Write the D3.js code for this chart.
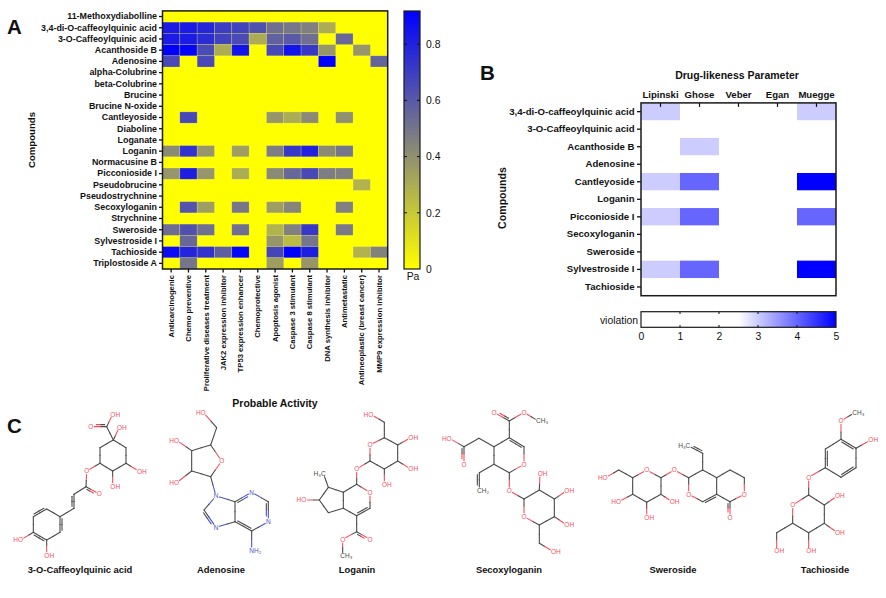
<!DOCTYPE html>
<html><head><meta charset="utf-8">
<script src="https://cdn.jsdelivr.net/npm/d3@7"></script>
<style>
html,body{margin:0;padding:0;background:#fff}
svg{display:block}
text{font-family:"Liberation Sans",Arial,sans-serif;fill:#111}
.b text,.bt{font-weight:700}
</style></head><body><svg id="c" width="886" height="598"></svg>
<script>
// ---------- Panel A data ----------
const compoundsA=["11-Methoxydiabolline","3,4-di-O-caffeoylquinic acid","3-O-Caffeoylquinic acid","Acanthoside B","Adenosine","alpha-Colubrine","beta-Colubrine","Brucine","Brucine N-oxide","Cantleyoside","Diaboline","Loganate","Loganin","Normacusine B","Picconioside I","Pseudobrucine","Pseudostrychnine","Secoxyloganin","Strychnine","Sweroside","Sylvestroside I","Tachioside","Triplostoside A"];
const activities=["Anticarcinogenic","Chemo preventive","Proliferative diseases treatment","JAK2 expression inhibitor","TP53 expression enhancer","Chemoprotective","Apoptosis agonist","Caspase 3 stimulant","Caspase 8 stimulant","DNA synthesis inhibitor","Antimetastatic","Antineoplastic (breast cancer)","MMP9 expression inhibitor"];
const z=[0,0,0,0,0,0,0,0,0,0,0,0,0];
const paValues=[
z,
[.82,.82,.78,.70,.68,.63,.52,.49,.46,.30,0,0,0],
[.82,.82,.76,.68,.65,.30,.57,.60,.52,0,.55,0,0],
[.92,.90,.65,.30,.85,0,.66,.85,.72,.38,0,.38,0],
[.66,0,.66,0,0,0,0,0,0,.92,0,0,.56],
z,z,z,z,
[0,.66,0,0,0,0,.38,.30,.42,0,.40,0,0],
z,z,
[.42,.74,.38,0,.35,0,.47,.72,.80,.42,.50,0,0],
z,
[.38,.81,.38,0,.30,0,.42,.55,.66,.47,.46,0,0],
[0,0,0,0,0,0,0,0,0,0,0,.28,0],
z,
[0,.62,.35,0,.49,0,.35,.44,0,0,.46,0,0],
z,
[.53,.63,.52,0,.52,0,.28,.46,.72,0,.48,0,0],
[0,.55,0,0,0,0,.38,.25,.50,0,0,0,0],
[.88,.79,.74,.58,.90,0,.67,.92,.81,0,0,.28,.45],
[0,.50,0,0,0,0,.35,0,.38,0,0,0,0]];
const paTicks=[0,.2,.4,.6,.8];
// ---------- Panel B data ----------
const compoundsB=["3,4-di-O-caffeoylquinic acid","3-O-Caffeoylquinic acid","Acanthoside B","Adenosine","Cantleyoside","Loganin","Picconioside I","Secoxyloganin","Sweroside","Sylvestroside I","Tachioside"];
const parameters=["Lipinski","Ghose","Veber","Egan","Muegge"];
const violations=[[3,0,0,0,3],[0,0,0,0,0],[0,3,0,0,0],[0,0,0,0,0],[3,4,0,0,5],[0,0,0,0,0],[3,4,0,0,4],[0,0,0,0,0],[0,0,0,0,0],[3,4,0,0,5],[0,0,0,0,0]];
const violationTicks=[0,1,2,3,4,5];
// ---------- Panel C: structures, atoms [x,y,label] in drawing units, bonds [a,b,order] ----------
const molecules=[
{name:"3-O-Caffeoylquinic acid",ox:0,cx:80,
 atoms:[[340,120],[378,143],[378,190],[338,213],[300,190],[300,143],[320,80],[272,80,"O"],[338,43,"OH"],[358,82,"OH"],[418,214,"OH"],[338,259,"OH"],[260,213,"O"],[258,260],[298,282,"O"],[222,283],[222,325],[180,350],[140,327],[100,350],[100,397],[140,420],[180,397],[62,420,"HO"],[140,466,"OH"]],
 bonds:[[0,1],[1,2],[2,3],[3,4],[4,5],[5,0],[0,6],[6,7,2],[6,8],[0,9],[2,10],[3,11],[4,12],[12,13],[13,14,2],[13,15],[15,16,2],[16,17],[17,18],[18,19,2],[19,20],[20,21,2],[21,22],[22,17,2],[20,23],[21,24]]},
{name:"Adenosine",ox:0,cx:221,
 atoms:[[610,37,"HO"],[650,83],[632,135],[665,183,"O"],[632,230],[575,213],[575,152],[530,121,"HO"],[530,248,"HO"],[648,288,"N"],[612,330],[648,382,"N"],[705,365],[705,305],[755,277,"N"],[805,305],[805,365,"N"],[755,393],[755,452,"NH₂"]],
 bonds:[[0,1],[1,2],[2,3],[3,4],[4,5],[5,6],[6,2],[6,7],[5,8],[4,9],[9,10],[10,11,2],[11,12],[12,13],[13,9],[13,14,2],[14,15],[15,16,2],[16,17],[17,12,2],[17,18]]},
{name:"Loganin",ox:290,cx:357,
 atoms:[[243,43,"HO"],[283,67],[283,113],[240,135,"O"],[240,183],[283,207],[323,183],[323,135],[362,113,"OH"],[362,207,"OH"],[283,253,"OH"],[200,207,"O"],[200,253],[240,277,"O"],[240,325],[200,347],[160,325],[160,277],[115,262],[100,220,"H₃C"],[88,300],[42,300,"HO"],[115,338],[200,395],[240,418,"O"],[158,418,"O"],[158,468,"CH₃"]],
 bonds:[[0,1],[1,2],[2,3],[3,4],[4,5],[5,6],[6,7],[7,2],[7,8],[6,9],[5,10],[4,11],[11,12],[12,13],[13,14],[14,15,2],[15,16],[16,17],[17,12],[17,18],[18,19],[18,20],[20,21],[20,22],[22,16],[15,23],[23,24,2],[23,25],[25,26]]},
{name:"Secoxyloganin",ox:290,cx:509,
 atoms:[[658,63],[612,37,"O"],[702,37,"O"],[745,63,"CH₃"],[658,113],[702,140],[702,193,"O"],[658,218],[612,193],[612,140],[567,115],[522,140],[478,115,"HO"],[522,193,"O"],[568,218],[568,272,"CH₂"],[658,272,"O"],[702,297],[702,350,"O"],[748,375],[793,350],[793,297],[748,270],[750,220,"OH"],[830,272,"OH"],[830,375,"OH"],[748,430],[790,455,"OH"]],
 bonds:[[0,1,2],[0,2],[2,3],[0,4],[4,5,2],[5,6],[6,7],[7,8],[8,9],[9,4],[9,10],[10,11],[11,12],[11,13,2],[8,14],[14,15,2],[7,16],[16,17],[17,18],[18,19],[19,20],[20,21],[21,22],[22,17],[22,23],[21,24],[20,25],[19,26],[26,27]]},
{name:"Sweroside",ox:586,cx:673,
 atoms:[[58,233,"HO"],[98,210],[140,233],[182,210,"O"],[225,233],[225,283],[182,307],[140,283],[98,305,"HO"],[182,353,"OH"],[258,305,"OH"],[265,210,"O"],[308,233],[308,283,"O"],[350,305],[392,283],[392,233],[350,210],[350,160],[306,137,"H₃C"],[432,210],[475,233],[475,283,"O"],[432,305],[432,353,"O"]],
 bonds:[[0,1],[1,2],[2,3],[3,4],[4,5],[5,6],[6,7],[7,2],[7,8],[6,9],[5,10],[4,11],[11,12],[12,13],[13,14],[14,15,2],[15,16],[16,17],[17,12],[17,18],[18,19,2],[16,20],[20,21],[21,22],[22,23],[23,15],[23,24,2]]},
{name:"Tachioside",ox:586,cx:825,
 atoms:[[806,38,"CH₃"],[765,63,"O"],[765,118],[810,145],[854,120,"OH"],[810,203],[765,232],[718,203],[718,147],[668,232,"O"],[668,285],[620,315,"O"],[620,370],[668,398],[715,370],[715,315],[754,288,"OH"],[754,398,"OH"],[668,453,"OH"],[572,398],[572,453,"OH"]],
 bonds:[[0,1],[1,2],[2,3,2],[3,4],[3,5],[5,6,2],[6,7],[7,8,2],[8,2],[7,9],[9,10],[10,11],[11,12],[12,13],[13,14],[14,15],[15,10],[15,16],[14,17],[13,18],[12,19],[19,20]]}
];
const svg=d3.select("#c");

// ---------- Panel A ----------
const ax=d3.scaleBand().domain(activities).range([162.5,387.7]);
const ay=d3.scaleBand().domain(compoundsA).range([10.9,269]);
const paMax=.918;
const paColor=d3.scaleLinear().domain([0,paMax/2,paMax]).range(["#ffff00","#808080","#0000ff"]);
const gA=svg.append("g");
gA.append("rect").attr("x",162.5).attr("y",10.9).attr("width",225.2).attr("height",258.1).attr("fill",paColor(0));
compoundsA.forEach((c,i)=>activities.forEach((a,j)=>{
  if(paValues[i][j]>0) gA.append("rect").attr("x",ax(a)).attr("y",ay(c)).attr("width",ax.bandwidth()).attr("height",ay.bandwidth())
    .attr("fill",paColor(paValues[i][j])).attr("stroke","#ffffa0").attr("stroke-opacity",.35).attr("stroke-width",.6);
}));
function style(g,fs,w){
  g.attr("class","b");
  g.selectAll("text").attr("font-size",fs).attr("fill","#111");
  g.selectAll("line").attr("stroke","#111").attr("stroke-width",w);
  g.select(".domain").remove();
}
svg.append("g").attr("transform","translate(162.5,0)").call(d3.axisLeft(ay).tickSize(3.5).tickPadding(2)).call(style,8.9,1.3);
const xa=svg.append("g").attr("transform","translate(0,269)").call(d3.axisBottom(ax).tickSize(3.5)).call(style,7.7,1.3);
xa.selectAll("text").attr("transform","rotate(-90)").attr("text-anchor","end").attr("x",-6).attr("y",0).attr("dy","0.35em");
svg.append("rect").attr("x",162.5).attr("y",10.9).attr("width",225.2).attr("height",258.1).attr("fill","none").attr("stroke","#1a1a1a").attr("stroke-width",1.5);
svg.append("text").attr("class","bt").attr("font-size",9.6).attr("text-anchor","middle").attr("transform","translate(35,140) rotate(-90)").text("Compounds");
svg.append("text").attr("class","bt").attr("font-size",10.5).attr("text-anchor","middle").attr("x",275).attr("y",407).text("Probable Activity");

// Pa colour bar
const defs=svg.append("defs");
const gr=defs.append("linearGradient").attr("id","pa").attr("x1",0).attr("x2",0).attr("y1",1).attr("y2",0);
[0,.5,1].forEach(t=>gr.append("stop").attr("offset",t).attr("stop-color",paColor(t*paMax)));
const py=d3.scaleLinear().domain([0,paMax]).range([269,11]);
svg.append("rect").attr("x",404).attr("y",py(paMax)).attr("width",16).attr("height",py(0)-py(paMax)).attr("fill","url(#pa)").attr("stroke","#1a1a1a").attr("stroke-width",1.2);
const pat=svg.append("g").attr("transform","translate(420,0)").call(d3.axisRight(py).tickValues(paTicks).tickFormat(d=>d===0?"0":d3.format(".1f")(d)).tickSize(0).tickPadding(6));
pat.select(".domain").remove();
pat.selectAll("text").attr("font-size",10.4).attr("fill","#333");
paTicks.filter(d=>d>0).forEach(d=>{
  svg.append("line").attr("x1",404).attr("x2",407).attr("y1",py(d)).attr("y2",py(d)).attr("stroke","#111");
  svg.append("line").attr("x1",417).attr("x2",420).attr("y1",py(d)).attr("y2",py(d)).attr("stroke","#111");
});
svg.append("text").attr("font-size",10.4).attr("fill","#333").attr("text-anchor","middle").attr("x",413).attr("y",280).text("Pa");

// ---------- Panel B ----------
const bx=d3.scaleBand().domain(parameters).range([641,836]);
const by=d3.scaleBand().domain(compoundsB).range([102.9,295.7]);
const vColor=d3.scaleLinear().domain([0,2.5,5]).range(["#ffffff","#ffffff","#0000ff"]);
compoundsB.forEach((c,i)=>parameters.forEach((p,j)=>{
  svg.append("rect").attr("x",bx(p)).attr("y",by(c)).attr("width",bx.bandwidth()).attr("height",by.bandwidth()).attr("fill",vColor(violations[i][j]));
}));
svg.append("g").attr("transform","translate(641,0)").call(d3.axisLeft(by).tickSize(4).tickPadding(2.5)).call(style,9.6,1.3);
const xb=svg.append("g").attr("transform","translate(0,102.9)").call(d3.axisTop(bx).tickSize(-4).tickPadding(3)).call(style,9.6,1.2);
xb.selectAll("text").attr("y",-4.5);
svg.append("rect").attr("x",641).attr("y",102.9).attr("width",195).attr("height",192.8).attr("fill","none").attr("stroke","#1a1a1a").attr("stroke-width",1.5);
svg.append("text").attr("class","bt").attr("font-size",10.5).attr("text-anchor","middle").attr("x",737).attr("y",79).text("Drug-likeness Parameter");
svg.append("text").attr("class","bt").attr("font-size",10.6).attr("text-anchor","middle").attr("transform","translate(506,198) rotate(-90)").text("Compounds");

// violation colour bar
const vx=d3.scaleLinear().domain([0,5]).range([641,836]);
const gv=defs.append("linearGradient").attr("id","vi");
[0,.5,1].forEach(t=>gv.append("stop").attr("offset",t).attr("stop-color",vColor(t*5)));
svg.append("rect").attr("x",641).attr("y",311.7).attr("width",195).attr("height",15.6).attr("fill","url(#vi)").attr("stroke","#1a1a1a").attr("stroke-width",1.2);
const vt=svg.append("g").attr("transform","translate(0,327.3)").call(d3.axisBottom(vx).tickValues(violationTicks).tickFormat(d3.format("d")).tickSize(0).tickPadding(5));
vt.select(".domain").remove();
vt.selectAll("text").attr("font-size",10.4).attr("fill","#333");
violationTicks.slice(1,5).forEach(d=>{
  svg.append("line").attr("x1",vx(d)).attr("x2",vx(d)).attr("y1",311.7).attr("y2",314).attr("stroke","#111");
  svg.append("line").attr("x1",vx(d)).attr("x2",vx(d)).attr("y1",325).attr("y2",327.3).attr("stroke","#111");
});
svg.append("text").attr("font-size",10.4).attr("fill","#333").attr("text-anchor","end").attr("x",638).attr("y",324).text("violation");

// Panel letters
[["A",7,34],["B",480,80],["C",7,433]].forEach(d=>svg.append("text").attr("class","bt").attr("font-size",20.5).attr("fill","#000").attr("x",d[1]).attr("y",d[2]).text(d[0]));

// ---------- Panel C ----------
const RED="#f2505f",BLUE="#4d55c4",GREY="#4a4a4a";
function atomColor(l){ if(!l) return GREY; if(l[0]==="N") return BLUE; if(l.includes("O")) return RED; return GREY; }
molecules.forEach(m=>{
  const mx=d3.scaleLinear().domain([0,300]).range([m.ox,m.ox+100]);
  const my=d3.scaleLinear().domain([0,300]).range([400,500]);
  const g=svg.append("g");
  m.bonds.forEach(([a,b,o])=>{
    const A=m.atoms[a],B=m.atoms[b];
    let x1=mx(A[0]),y1=my(A[1]),x2=mx(B[0]),y2=my(B[1]);
    const L=Math.hypot(x2-x1,y2-y1),ux=(x2-x1)/L,uy=(y2-y1)/L;
    const s1=A[2]?3.6:0,s2=B[2]?3.6:0;
    x1+=ux*s1;y1+=uy*s1;x2-=ux*s2;y2-=uy*s2;
    const xm=(x1+x2)/2,ym=(y1+y2)/2;
    const seg=(xa,ya,xb,yb,c)=>g.append("line").attr("x1",xa).attr("y1",ya).attr("x2",xb).attr("y2",yb).attr("stroke",c).attr("stroke-width",1.1).attr("stroke-linecap","round");
    seg(x1,y1,xm,ym,atomColor(A[2]));seg(xm,ym,x2,y2,atomColor(B[2]));
    if(o===2){
      const nx=-uy*2,ny=ux*2,k=2;
      const p=[x1+ux*k+nx,y1+uy*k+ny,x2-ux*k+nx,y2-uy*k+ny];
      const pm=[(p[0]+p[2])/2,(p[1]+p[3])/2];
      seg(p[0],p[1],pm[0],pm[1],atomColor(A[2]));seg(pm[0],pm[1],p[2],p[3],atomColor(B[2]));
    }
  });
  m.atoms.filter(d=>d[2]).forEach(d=>{
    const l=d[2];
    const anchor=(l==="HO"||l==="H₃C")?"end":(l==="O"||l==="N")?"middle":"start";
    const dx=anchor==="end"?2.3:anchor==="start"?-2.3:0;
    g.append("text").attr("x",mx(d[0])+dx).attr("y",my(d[1])+2.3).attr("font-size",6.5).attr("text-anchor",anchor).style("fill",atomColor(l)).text(l);
  });
  svg.append("text").attr("class","bt").attr("font-size",9.4).attr("text-anchor","middle").attr("x",m.cx).attr("y",573).text(m.name);
});
</script></body></html>
